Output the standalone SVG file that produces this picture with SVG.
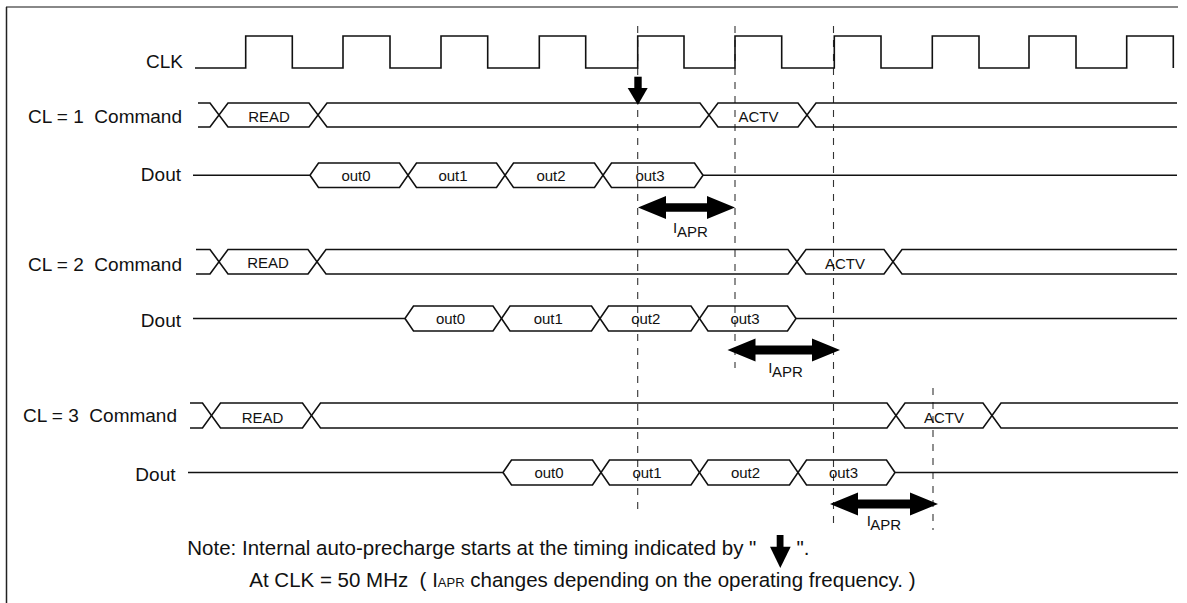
<svg xmlns="http://www.w3.org/2000/svg" width="1187" height="603" viewBox="0 0 1187 603">
<style>
.sig{fill:none;stroke:#111;stroke-width:1.6;stroke-linejoin:miter}
.dash{fill:none;stroke:#333;stroke-width:1.1;stroke-dasharray:7 7}
.lbl{font-family:"Liberation Sans",Arial,sans-serif;font-size:19px;fill:#111;white-space:pre}
.note{font-family:"Liberation Sans",Arial,sans-serif;font-size:20.5px;fill:#111;white-space:pre}
.box{font-family:"Liberation Sans",Arial,sans-serif;font-size:15px;fill:#111;text-anchor:middle}
.sub{font-family:"Liberation Sans",Arial,sans-serif;font-size:15px;fill:#111}
.arr{fill:#000;stroke:none}
</style>
<rect width="1187" height="603" fill="#fff"/>
<g id="frame">
<line x1="6" y1="7" x2="1178" y2="7" stroke="#888" stroke-width="2"/>
<line x1="6.5" y1="7" x2="6.5" y2="603" stroke="#222" stroke-width="1.5"/>
</g>
<g id="guides">
<line class="dash" x1="637.7" y1="26" x2="637.7" y2="510"/>
<line class="dash" x1="735" y1="26" x2="735" y2="368"/>
<line class="dash" x1="833.5" y1="26" x2="833.5" y2="530"/>
<line class="dash" x1="933" y1="388" x2="933" y2="530"/>
</g>
<g id="clk">
<text class="lbl" x="183" y="68" text-anchor="end">CLK</text>
<path class="sig" d="M195,68 H245.7 V36 H292.3 V68 H343 V36 H390 V68 H441 V36 H487.7 V68 H539.3 V36 H585.7 V68 H637.7 V36 H684 V68 H735 V36 H781.7 V68 H834.3 V36 H881 V68 H932.3 V36 H979 V68 H1029 V36 H1076 V68 H1126.7 V36 H1173.3 V68"/>
</g>
<g id="cl1-command">
<text class="lbl" x="182" y="123" text-anchor="end">CL = 1  Command</text>
<path class="sig" d="M198,103 H210 L228,127 H309 L327,103 H700 L718,127 H798 L816,103 H1177"/>
<path class="sig" d="M198,127 H210 L228,103 H309 L327,127 H700 L718,103 H798 L816,127 H1177"/>
<text class="box" x="269" y="121.5">READ</text>
<text class="box" x="758.5" y="122">ACTV</text>
</g>
<g id="cl1-dout">
<text class="lbl" x="181" y="180.5" text-anchor="end">Dout</text>
<path class="sig" d="M193,175.25 H310 L318.5,163 H399.5 L416.5,187.5 H496.5 L513.5,163 H594.5 L611.5,187.5 H694.5 L703,175.25 H1177"/>
<path class="sig" d="M310,175.25 L318.5,187.5 H399.5 L416.5,163 H496.5 L513.5,187.5 H594.5 L611.5,163 H694.5 L703,175.25"/>
<text class="box" x="356" y="180.5">out0</text>
<text class="box" x="453" y="180.5">out1</text>
<text class="box" x="551" y="180.5">out2</text>
<text class="box" x="650" y="180.5">out3</text>
</g>
<g id="cl1-arrows">
<rect class="arr" x="634.3" y="76.7" width="7.4" height="11.5"/>
<polygon class="arr" points="627.7,88 647.7,88 637.9,105"/>
<polygon class="arr" points="638,207.5 666,196 666,203.2 707,203.2 707,196 735,207.5 707,219 707,211.8 666,211.8 666,219"/>
<text class="sub" x="673" y="232.5">I<tspan x="677" y="236.8">APR</tspan></text>
</g>
<g id="cl2-command">
<text class="lbl" x="182" y="270.5" text-anchor="end">CL = 2  Command</text>
<path class="sig" d="M196,249.5 H210 L228,274 H308 L326,249.5 H788 L806,274 H884 L902,249.5 H1177"/>
<path class="sig" d="M196,274 H210 L228,249.5 H308 L326,274 H788 L806,249.5 H884 L902,274 H1177"/>
<text class="box" x="268" y="268">READ</text>
<text class="box" x="845" y="268.5">ACTV</text>
</g>
<g id="cl2-dout">
<text class="lbl" x="181" y="327" text-anchor="end">Dout</text>
<path class="sig" d="M193,318.5 H405 L413.5,306 H493 L510,331 H591.5 L608.5,306 H691 L708,331 H787.5 L796,318.5 H1177"/>
<path class="sig" d="M405,318.5 L413.5,331 H493 L510,306 H591.5 L608.5,331 H691 L708,306 H787.5 L796,318.5"/>
<text class="box" x="450.5" y="323.5">out0</text>
<text class="box" x="548.3" y="323.5">out1</text>
<text class="box" x="645.8" y="323.5">out2</text>
<text class="box" x="745" y="323.5">out3</text>
</g>
<g id="cl2-arrows">
<polygon class="arr" points="727.5,350 755.5,338.5 755.5,345.5 812,345.5 812,338.5 840,350 812,361.5 812,354.5 755.5,354.5 755.5,361.5"/>
<text class="sub" x="768.3" y="372.5">I<tspan x="772" y="376.8">APR</tspan></text>
</g>
<g id="cl3-command">
<text class="lbl" x="177" y="421.7" text-anchor="end">CL = 3  Command</text>
<path class="sig" d="M190,403 H202.5 L220.5,428 H302.5 L320.5,403 H887 L905,428 H983 L1001,403 H1178"/>
<path class="sig" d="M190,428 H202.5 L220.5,403 H302.5 L320.5,428 H887 L905,403 H983 L1001,428 H1178"/>
<text class="box" x="262.5" y="423">READ</text>
<text class="box" x="944" y="423.3">ACTV</text>
</g>
<g id="cl3-dout">
<text class="lbl" x="175.5" y="480.7" text-anchor="end">Dout</text>
<path class="sig" d="M188,472.5 H503 L511.5,460 H592.5 L609.5,485 H691 L708,460 H789.5 L806.5,485 H886.5 L895,472.5 H1178"/>
<path class="sig" d="M503,472.5 L511.5,485 H592.5 L609.5,460 H691 L708,485 H789.5 L806.5,460 H886.5 L895,472.5"/>
<text class="box" x="549" y="477.5">out0</text>
<text class="box" x="647" y="477.5">out1</text>
<text class="box" x="745.5" y="477.5">out2</text>
<text class="box" x="843.5" y="477.5">out3</text>
</g>
<g id="cl3-arrows">
<polygon class="arr" points="830,504 858,492.5 858,499.5 910,499.5 910,492.5 938,504 910,515.5 910,508.5 858,508.5 858,515.5"/>
<text class="sub" x="866.7" y="525.5">I<tspan x="870.3" y="530">APR</tspan></text>
</g>
<g id="note">
<text class="note" x="187.3" y="555">Note: Internal auto-precharge starts at the timing indicated by "</text>
<rect class="arr" x="776.7" y="535" width="6.8" height="12"/>
<polygon class="arr" points="770,546.7 790.7,546.7 780.3,568"/>
<text class="note" x="796.5" y="555">".</text>
<text class="note" x="249.3" y="587">At CLK = 50 MHz  ( I<tspan font-size="13">APR</tspan> changes depending on the operating frequency. )</text>
</g>
</svg>
